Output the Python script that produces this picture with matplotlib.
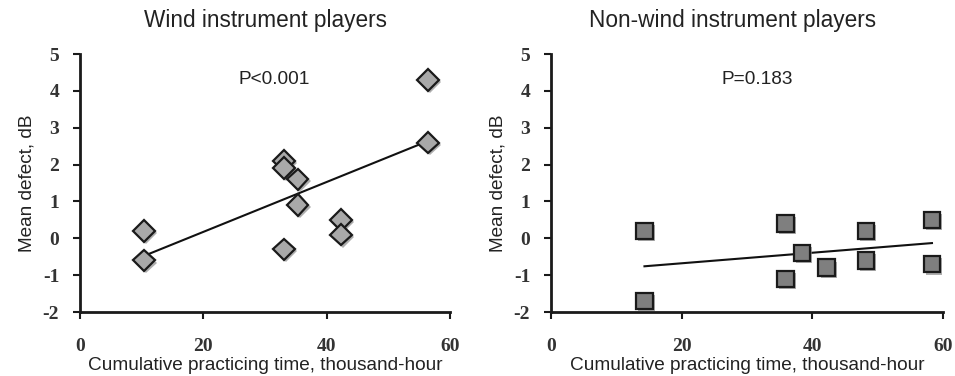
import matplotlib
matplotlib.use('Agg')
import matplotlib.pyplot as plt
import matplotlib.patheffects as pe
import numpy as np

# data
windTime   = [10.4, 10.4, 33.1, 33.1, 35.3, 35.3, 33.1, 42.3, 42.3, 56.4, 56.4]
windDefect = [0.2, -0.6, 2.1, 1.9, 1.6, 0.9, -0.3, 0.5, 0.1, 4.3, 2.6]

nonWindTime   = [14.3, 14.3, 35.9, 35.9, 38.4, 42.2, 48.2, 48.2, 58.3, 58.3]
nonWindDefect = [0.2, -1.7, 0.4, -1.1, -0.4, -0.8, 0.2, -0.6, 0.5, -0.7]

titles  = ['Wind instrument players', 'Non-wind instrument players']
pLabels = ['P<0.001', 'P=0.183']
xTicks  = [0, 20, 40, 60]
yTicks  = [-2, -1, 0, 1, 2, 3, 4, 5]

plt.rcParams['axes.unicode_minus'] = False

txtCol = '#222222'
sansFont = 'Liberation Sans'
serifFont = 'Liberation Serif'

fig = plt.figure(figsize=(9.55, 3.76), dpi=100)
axL = fig.add_axes([0.0838, 0.1702, 0.3874, 0.686])
axR = fig.add_axes([0.577, 0.1702, 0.4105, 0.686])

panels = [
    (axL, windTime, windDefect, 'D', '#a9a9a9', 11),
    (axR, nonWindTime, nonWindDefect, 's', '#7f7f7f', 12),
]

shadow = [pe.SimplePatchShadow(offset=(1.5, -1.5), shadow_rgbFace='0.55', alpha=0.7), pe.Normal()]

for i, (ax, x, y, mk, fc, ms) in enumerate(panels):
    x = np.array(x)
    y = np.array(y)
    # linear trend line
    k, d = np.polyfit(x, y, 1)
    xs = np.array([x.min(), x.max()])
    ax.plot(xs, k * xs + d, color='#111111', lw=1.5, zorder=2)
    ax.plot(x, y, linestyle='none', marker=mk, markersize=ms, markerfacecolor=fc,
            markeredgecolor='#1a1a1a', markeredgewidth=1.6, zorder=3, path_effects=shadow)

    ax.set_xlim(0, 60)
    ax.set_ylim(-2, 5)
    ax.set_xticks(xTicks, labels=[str(t) for t in xTicks])
    ax.set_yticks(yTicks, labels=[str(t) for t in yTicks])
    ax.spines['top'].set_visible(False)
    ax.spines['right'].set_visible(False)
    for s in ['left', 'bottom']:
        ax.spines[s].set_linewidth(2)
        ax.spines[s].set_color('#1a1a1a')
    ax.tick_params(axis='y', direction='out', length=5, width=1.5, pad=10, colors='#1a1a1a')
    ax.tick_params(axis='x', direction='out', length=5, width=1.5, pad=14, colors='#1a1a1a')
    for lab in ax.get_xticklabels() + ax.get_yticklabels():
        lab.set_fontfamily(serifFont)
        lab.set_fontweight('bold')
        lab.set_fontsize(14)
        lab.set_color('#333333')

    ax.set_xlabel('Cumulative practicing time, thousand-hour', fontsize=13.7,
                  family=sansFont, color=txtCol, labelpad=1)
    ax.set_ylabel('Mean defect, dB', fontsize=13.7, family=sansFont, color=txtCol, labelpad=5)
    ax.text(31.5, 4.3, pLabels[i], fontsize=13.7, family=sansFont, color=txtCol,
            ha='center', va='center')

# titles above each panel
fig.text(0.2775, 1 - 21 / 376, titles[0], fontsize=16.3, family=sansFont, color=txtCol,
         ha='center', va='center')
fig.text(0.7675, 1 - 21 / 376, titles[1], fontsize=16.3, family=sansFont, color=txtCol,
         ha='center', va='center')

fig.savefig('out.png', dpi=100)
